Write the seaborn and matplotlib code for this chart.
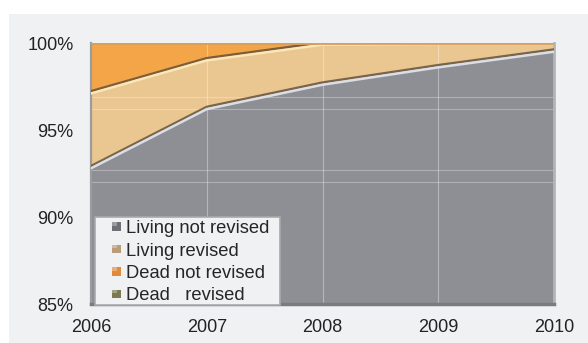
import matplotlib
matplotlib.use("Agg")
import matplotlib.pyplot as plt
import matplotlib.patheffects as pe
from matplotlib.patches import Rectangle, Patch
from matplotlib.legend_handler import HandlerBase
import numpy as np
import pandas as pd
import seaborn as sns

# Share of cases per year (%), stacked to 100
years = [2006, 2007, 2008, 2009, 2010]
living_not_revised = [92.8, 96.2, 97.6, 98.6, 99.5]
living_revised = [4.3, 2.8, 2.3, 1.35, 0.45]
dead_not_revised = [2.9, 1.0, 0.1, 0.05, 0.05]
dead_revised = [0.0, 0.0, 0.0, 0.0, 0.0]
series_names = ["Living not revised", "Living revised", "Dead not revised", "Dead   revised"]
y_ticks = [85, 90, 95, 100]
y_tick_labels = ["85%", "90%", "95%", "100%"]

sns.set_style("white")
plt.rcParams["font.family"] = ["Liberation Sans", "DejaVu Sans"]

fill_colors = ["#8e8f95", "#eac691", "#f4a548", "#7f7b52"]
legend_colors = ["#6f7075", "#b99c7a", "#e18a3c", "#7b7a50"]


class SquareMarker(HandlerBase):
    """Small square key drawn at the right end of the handle box."""

    def create_artists(self, legend, orig_handle, xdescent, ydescent,
                       width, height, fontsize, trans):
        side = 0.46 * fontsize
        x0 = width - xdescent - side
        y0 = (height - side) / 2 - ydescent
        sq = Rectangle((x0, y0), side, side, facecolor=orig_handle.get_facecolor(),
                       edgecolor="none", transform=trans)
        hi = Rectangle((x0, y0 + side * 0.6), side * 0.5, side * 0.4, facecolor="white",
                       alpha=0.3, edgecolor="none", transform=trans)
        return [sq, hi]


fig = plt.figure(figsize=(5.88, 3.43), dpi=100)
fig.patch.set_facecolor("white")
fig.patches.append(Rectangle((9 / 588, 0), 1 - 9 / 588, 1 - 14 / 343,
                             transform=fig.transFigure, facecolor="#f0f1f3",
                             edgecolor="none", zorder=-10))

ax = fig.add_axes([91 / 588, 1 - 304 / 343, (554 - 91) / 588, (304 - 43) / 343])
ax.set_facecolor("#8e8f95")

stack = np.vstack([living_not_revised, living_revised, dead_not_revised, dead_revised])
ax.stackplot(years, stack, colors=fill_colors, linewidth=0, zorder=1)

# Bevel-like highlights along each layer boundary
cum = np.cumsum(stack, axis=0)
df = pd.DataFrame({"year": years, "gray_top": cum[0], "beige_top": cum[1], "top": cum[3]})
shadow = [pe.SimpleLineShadow(offset=(0, 1.6), shadow_color="#5e4c38", alpha=0.8), pe.Normal()]
sns.lineplot(data=df, x="year", y="gray_top", color="#d9dee7", linewidth=1.8, ax=ax,
             path_effects=shadow, zorder=3)
sns.lineplot(data=df, x="year", y="beige_top", color="#fbe7b8", linewidth=1.8, ax=ax,
             path_effects=shadow, zorder=3)
sns.lineplot(data=df, x="year", y="top", color="#d99f5c", linewidth=2.0, ax=ax, zorder=3)

# Faint wall grid lines
for gy in [92.0, 92.7, 96.2, 96.9]:
    ax.axhline(gy, color="white", alpha=0.3, linewidth=0.8, zorder=2)
for gx in years[1:-1]:
    ax.axvline(gx, color="white", alpha=0.35, linewidth=0.8, zorder=2)

ax.set_xlim(years[0], years[-1])
ax.set_ylim(85, 100)
ax.set_xticks(years)
ax.set_xticklabels([str(y) for y in years], fontsize=13, color="#222222")
ax.set_yticks(y_ticks)
ax.set_yticklabels(y_tick_labels, fontsize=13, color="#222222")
ax.tick_params(axis="x", length=0, pad=11)
ax.tick_params(axis="y", direction="inout", length=5, color="#9a9a9a", pad=10)
ax.set_xlabel("")
ax.set_ylabel("")

for side, sp in ax.spines.items():
    sp.set_visible(True)
ax.spines["left"].set_color("#9c9c9c")
ax.spines["left"].set_linewidth(1.6)
ax.spines["bottom"].set_color("#7a7b80")
ax.spines["bottom"].set_linewidth(2.5)
ax.spines["right"].set_color("#b4b5b8")
ax.spines["right"].set_linewidth(2)
ax.spines["top"].set_visible(False)

# Legend box
ax.add_patch(Rectangle((95 / 588, 1 - 305 / 343), (280 - 95) / 588, (305 - 217) / 343,
                       transform=fig.transFigure, facecolor="#f0f1f3",
                       edgecolor="#a8a9ad", linewidth=1.2, zorder=4, clip_on=False))
handles = [Patch(facecolor=c, edgecolor="none") for c in legend_colors]
leg = ax.legend(handles, series_names, loc="upper left",
                bbox_to_anchor=(98 / 588, 1 - 220 / 343), bbox_transform=fig.transFigure,
                fontsize=13.2, frameon=False, handlelength=1.25, handleheight=0.6,
                handletextpad=0.25, labelspacing=0.3, borderpad=0.0,
                borderaxespad=0.0, handler_map={Patch: SquareMarker()})
leg.set_zorder(6)

fig.savefig("out.png", dpi=100)
